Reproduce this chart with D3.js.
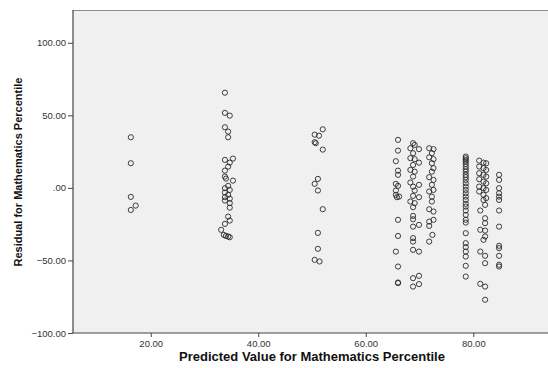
<!DOCTYPE html>
<html>
<head>
<meta charset="utf-8">
<script src="https://cdn.jsdelivr.net/npm/d3@7"></script>
<style>
  body { margin: 0; background: #fff; }
  text { font-family: "Liberation Sans", Arial, sans-serif; }
</style>
</head>
<body>
<div id="canvas"></div>
<script>
// [predicted, residual] pairs, one array per column
var col16 = [[16.3, 34.9], [16.3, 17.0], [16.3, -6.2], [17.2, -12.2], [16.3, -15.2]];
var col34 = [
  [33.8, 65.6], [33.8, 51.7], [34.7, 49.8], [33.8, 41.8], [34.4, 38.8], [34.4, 34.9],
  [33.8, 19.3], [35.3, 20.2], [34.7, 17.4], [34.4, 14.7], [33.8, 11.9], [33.8, 7.8],
  [34.0, 6.4], [35.3, 5.0], [34.4, 1.4], [33.8, -0.2], [34.7, -1.4], [33.8, -3.2],
  [34.4, -4.8], [33.8, -6.4], [34.7, -7.4], [33.8, -8.7], [34.7, -10.5], [34.7, -13.6],
  [34.4, -19.8], [34.7, -22.5], [33.8, -24.8], [33.1, -28.9], [33.6, -32.4], [34.0, -33.1],
  [34.4, -33.5], [34.7, -34.0]
];
var col51 = [
  [52.0, 40.4], [50.5, 36.7], [51.3, 36.0], [50.5, 31.5], [50.7, 30.8], [52.0, 26.4],
  [51.1, 6.2], [50.5, 2.8], [51.1, -1.8], [52.0, -14.7], [51.1, -31.0], [51.1, -42.0],
  [50.5, -49.6], [51.4, -50.7]
];
var col66 = [
  [66.0, 33.1], [66.0, 25.7], [65.6, 18.4], [66.0, 11.9], [66.0, 9.0], [65.6, 2.8],
  [66.0, 1.4], [65.6, -1.8], [65.6, -4.8], [65.8, -6.4], [66.2, -6.0], [66.0, -22.0],
  [66.0, -33.1], [65.6, -43.9], [66.0, -54.2], [66.0, -65.2], [66.0, -65.6]
];
var col69 = [
  [68.8, 30.8], [69.1, 29.6], [68.3, 27.3], [69.9, 26.7], [68.8, 23.9], [68.3, 20.5],
  [69.1, 19.8], [69.9, 17.4], [68.8, 15.8], [68.3, 12.4], [69.1, 11.2], [68.8, 7.8],
  [68.3, 3.7], [69.9, 2.1], [68.8, 0.9], [69.1, -1.8], [69.9, -6.4], [68.8, -5.5],
  [68.3, -9.4], [69.1, -10.5], [68.8, -13.3], [68.8, -19.3], [68.8, -21.6], [69.9, -25.5],
  [68.8, -26.7], [68.8, -34.6], [68.8, -37.0], [68.8, -42.7], [69.9, -43.9], [68.8, -62.2],
  [69.9, -60.6], [68.8, -68.0], [69.9, -66.3]
];
var col72 = [
  [71.8, 27.3], [72.6, 26.7], [72.3, 23.9], [71.8, 21.1], [72.6, 19.8], [72.3, 17.0],
  [72.6, 13.6], [72.3, 11.2], [71.8, 7.4], [72.6, 5.5], [72.3, 2.1], [72.6, -1.4],
  [71.8, -2.5], [72.3, -6.0], [72.3, -9.4], [71.8, -14.7], [72.6, -16.3], [72.6, -22.0],
  [71.8, -23.2], [71.8, -26.2], [72.4, -32.4], [71.8, -37.0]
];
var col79 = [
  [78.6, 21.6], [78.6, 20.5], [78.6, 19.3], [78.6, 18.1], [78.6, 16.5], [78.6, 14.7],
  [78.6, 12.9], [78.6, 11.2], [78.6, 9.0], [78.6, 7.4], [78.6, 5.5], [78.6, 3.2],
  [78.6, 0.9], [78.6, -1.4], [78.6, -3.7], [78.6, -6.0], [78.6, -8.3], [78.6, -11.0],
  [78.6, -12.9], [78.6, -15.6], [78.6, -18.6], [78.6, -22.0], [78.6, -23.9], [78.6, -31.2],
  [78.6, -38.1], [78.6, -40.8], [78.6, -43.9], [78.6, -47.3], [78.6, -53.7], [78.6, -61.1]
];
var col82 = [
  [81.1, 18.8], [81.9, 17.4], [82.4, 17.0], [81.1, 14.7], [81.9, 13.6], [82.4, 12.4],
  [81.1, 10.1], [81.9, 9.0], [82.4, 7.8], [81.1, 6.0], [81.9, 4.3], [82.4, 3.2],
  [81.1, 0.9], [81.9, -0.2], [82.4, -1.4], [81.1, -2.5], [81.9, -4.8], [82.4, -7.1],
  [81.9, -8.3], [82.2, -11.7], [81.3, -15.6], [82.2, -20.9], [82.2, -24.3], [81.3, -28.9],
  [82.2, -29.4], [82.2, -33.5], [81.9, -35.8], [81.3, -43.9], [82.2, -46.8], [82.2, -51.9],
  [81.3, -66.1], [82.2, -68.0], [82.2, -77.1]
];
var col85 = [
  [84.8, 9.0], [84.8, 5.5], [84.8, -0.2], [84.8, -3.7], [84.8, -6.0], [84.8, -8.3],
  [84.8, -15.6], [84.8, -26.7], [84.8, -39.9], [84.8, -41.5], [84.8, -46.8], [84.8, -53.0],
  [84.8, -54.2]
];

var xTicks = [20, 40, 60, 80];
var yTicks = [-100, -50, 0, 50, 100];
var xTitle = 'Predicted Value for Mathematics Percentile';
var yTitle = 'Residual for Mathematics Percentile';

var width = 548, height = 368;
var plotLeft = 73, plotTop = 10, plotBottom = 333;

var points = [].concat(col16, col34, col51, col66, col69, col72, col79, col82, col85);

var x = d3.scaleLinear().domain([5.54, 93.9]).range([plotLeft, width]);
var y = d3.scaleLinear().domain([-100, 122.6]).range([plotBottom, plotTop]);

var fmt = function (v) {
  return d3.format('.2f')(v).replace(/^(-?)0\./, '$1.');
};

var svg = d3.select('#canvas')
  .append('svg')
  .attr('width', width)
  .attr('height', height);

// plot background + top border
svg.append('rect')
  .attr('x', plotLeft)
  .attr('y', plotTop)
  .attr('width', width - plotLeft)
  .attr('height', plotBottom - plotTop)
  .attr('fill', '#f0f0f0');

svg.append('line')
  .attr('x1', plotLeft).attr('x2', width)
  .attr('y1', plotTop + 0.5).attr('y2', plotTop + 0.5)
  .attr('stroke', '#8c8c8c');

// points
svg.append('g')
  .selectAll('circle')
  .data(points)
  .enter()
  .append('circle')
  .attr('cx', function (d) { return x(d[0]); })
  .attr('cy', function (d) { return y(d[1]); })
  .attr('r', 2.6)
  .attr('fill', 'none')
  .attr('stroke', '#2a2a2a')
  .attr('stroke-width', 0.9);

// axes
var xAxis = svg.append('g')
  .attr('transform', 'translate(0,' + plotBottom + ')')
  .call(d3.axisBottom(x).tickValues(xTicks).tickFormat(fmt).tickSize(4).tickPadding(3));

var yAxis = svg.append('g')
  .attr('transform', 'translate(' + plotLeft + ',0)')
  .call(d3.axisLeft(y).tickValues(yTicks).tickFormat(fmt).tickSize(5).tickPadding(2));

[xAxis, yAxis].forEach(function (g) {
  g.select('.domain').attr('stroke', '#444').attr('stroke-width', 1.2);
  g.selectAll('.tick line').attr('stroke', '#444');
  g.selectAll('.tick text')
    .attr('fill', '#333')
    .style('font-size', '9.5px')
    .style('font-family', '"Liberation Sans", Arial, sans-serif');
});
xAxis.select('.domain').attr('d', 'M' + plotLeft + ',0H' + width);
yAxis.select('.domain').attr('d', 'M0,' + plotTop + 'V' + plotBottom);

// titles
svg.append('text')
  .attr('x', 312)
  .attr('y', 361)
  .attr('text-anchor', 'middle')
  .style('font-size', '13px')
  .style('font-weight', 'bold')
  .attr('fill', '#111')
  .text(xTitle);

svg.append('text')
  .attr('transform', 'translate(22,172) rotate(-90)')
  .attr('text-anchor', 'middle')
  .style('font-size', '11px')
  .style('font-weight', 'bold')
  .attr('fill', '#111')
  .text(yTitle);
</script>
</body>
</html>
